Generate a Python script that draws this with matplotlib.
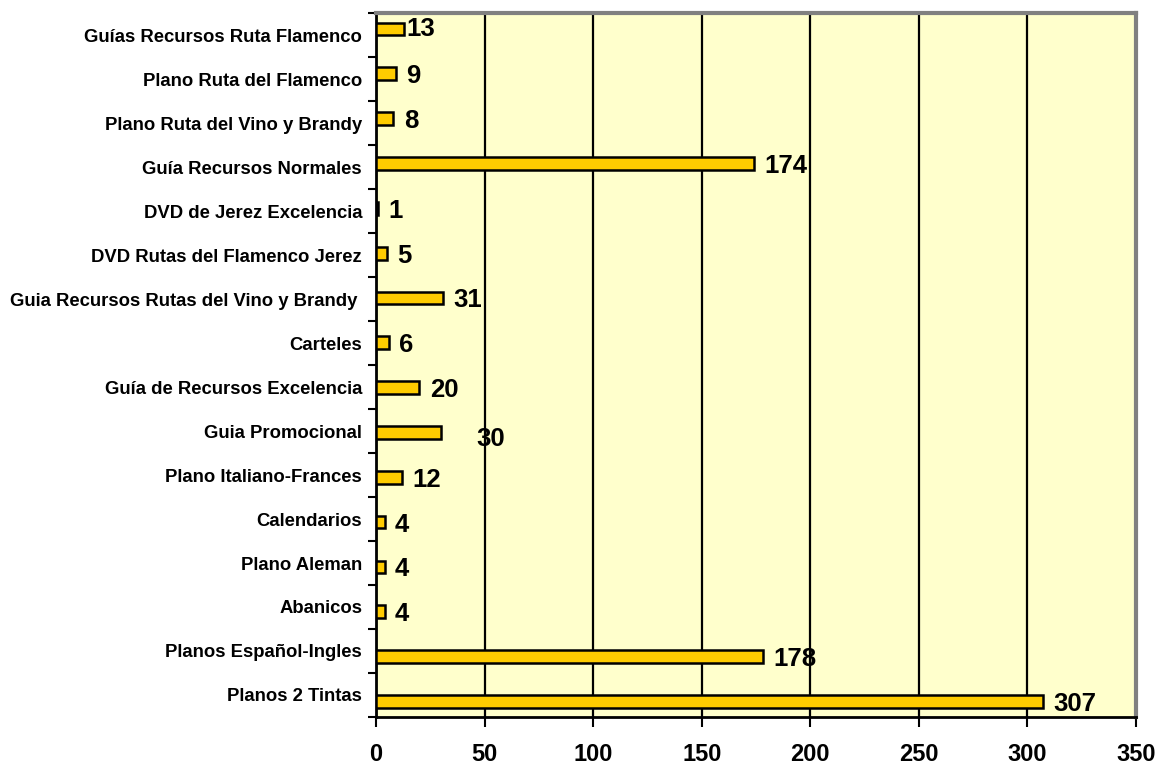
import numpy as np
import matplotlib
matplotlib.use("Agg")
import matplotlib.pyplot as plt

plt.rcParams["font.family"] = ["Liberation Sans", "DejaVu Sans"]
plt.rcParams["font.weight"] = "bold"

# ---- data (top to bottom as drawn) ----
categories = [
    "Guías Recursos Ruta Flamenco",
    "Plano Ruta del Flamenco",
    "Plano Ruta del Vino y Brandy",
    "Guía Recursos Normales",
    "DVD de Jerez Excelencia",
    "DVD Rutas del Flamenco Jerez",
    "Guia Recursos Rutas del Vino y Brandy ",
    "Carteles",
    "Guía de Recursos Excelencia",
    "Guia Promocional",
    "Plano Italiano-Frances",
    "Calendarios",
    "Plano Aleman",
    "Abanicos",
    "Planos Español-Ingles",
    "Planos 2 Tintas",
]
values = [13, 9, 8, 174, 1, 5, 31, 6, 20, 30, 12, 4, 4, 4, 178, 307]
xticks = [0, 50, 100, 150, 200, 250, 300, 350]

# label nudges in points (excel left a couple of labels off their spot)
nudge = {0: (1.5, 2.0), 9: (25.0, -3.0)}

n = len(categories)
fig = plt.figure(figsize=(11.63, 7.67), dpi=100)
ax = fig.add_axes([0.3233, 0.0652, 0.9768 - 0.3233, 0.983 - 0.0652])
ax.set_facecolor("#FFFFCC")

# slots are n units tall; bars sit slightly spread relative to the label slots
slot_c = np.arange(n) + 0.5
bar_y = 0.364 + 1.0188 * np.arange(n)
ax.barh(bar_y, values, height=0.29, color="#FFCC00", edgecolor="black",
        linewidth=1.8, zorder=3)

for i, v in enumerate(values):
    dx, dy = nudge.get(i, (7.5, 0.0))
    ax.annotate(str(v), (v, bar_y[i]), xytext=(dx, dy), textcoords="offset points",
                ha="left", va="center_baseline", fontsize=18.5, fontweight="bold",
                zorder=4)

ax.set_ylim(n, 0)
ax.set_xlim(0, 350)
ax.set_xticks(xticks)
ax.set_xticklabels([str(t) for t in xticks], fontsize=17, fontweight="bold")
ax.tick_params(axis="x", direction="out", length=7, width=1.5, pad=12)

ax.set_yticks(np.arange(n + 1))
ax.set_yticklabels([])
ax.set_yticks(slot_c, minor=True)
ax.set_yticklabels(categories, minor=True, fontsize=13.3, fontweight="bold")
ax.tick_params(axis="y", which="major", direction="out", length=6, width=1.5)
ax.tick_params(axis="y", which="minor", length=0, pad=10)

ax.xaxis.grid(True, color="black", linewidth=1.6, zorder=1)
ax.set_axisbelow(True)

for s in ("left", "bottom"):
    ax.spines[s].set_color("black")
    ax.spines[s].set_linewidth(2)
for s in ("top", "right"):
    ax.spines[s].set_color("#808080")
    ax.spines[s].set_linewidth(3)

fig.savefig("out.png", dpi=100, facecolor="white")
